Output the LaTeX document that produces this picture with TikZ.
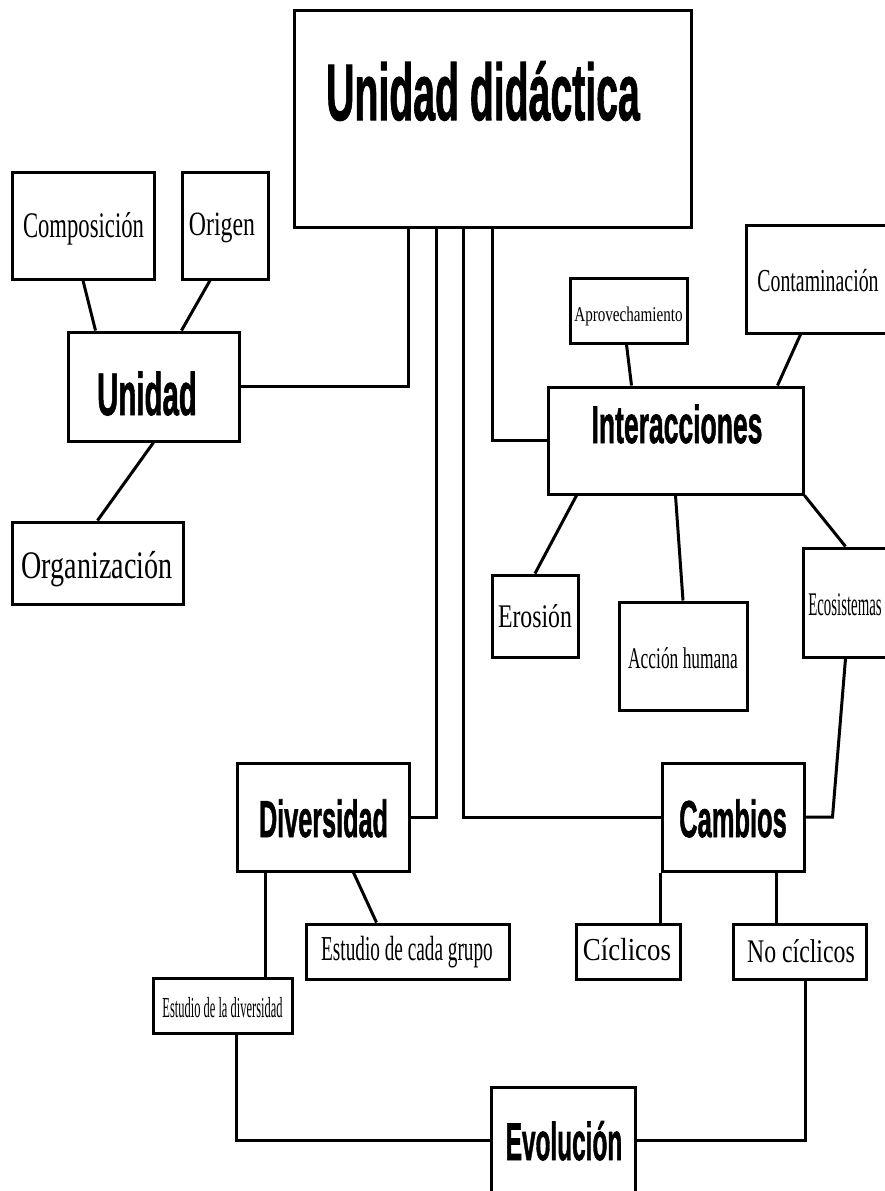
\documentclass[tikz,border=0pt]{standalone}
\usepackage{fontspec}
\setmainfont{Liberation Serif}
\newfontfamily\hdfont{Liberation Sans}
\usepackage{graphicx}
\usetikzlibrary{calc}
% #1 = twice the horizontal shift, #2 = baseline raise, #3 = size, #4 = x scale, #5 = text
\newcommand\tx[5]{\raisebox{#2pt}[0pt][0pt]{\makebox[0pt][c]{\hspace*{#1pt}\fontsize{#3}{#3}\selectfont\scalebox{#4}[1]{#5}}}}
\newcommand\hd[5]{\raisebox{#2pt}[0pt][0pt]{\makebox[0pt][c]{\hspace*{#1pt}\fontsize{#3}{#3}\selectfont\hdfont\bfseries\addfontfeature{FakeBold=1.5}\scalebox{#4}[1]{#5}}}}
\tikzset{
  bx/.style 2 args={draw=black, line width=3pt, inner sep=0pt, minimum width=#1, minimum height=#2, fill=white},
  conn/.style={draw=black, line width=3pt}
}
\begin{document}
\begin{tikzpicture}[x=1pt,y=-1pt]
\fill[white] (0,0) rectangle (884,1191);
\useasboundingbox (0,0) rectangle (884,1191);
% trunk positions
\coordinate (t1) at (408,0);
\coordinate (t2) at (436,0);
\coordinate (t3) at (463,0);
\coordinate (t4) at (492,0);
% nodes
\node[bx={397pt}{217pt}] (main) at (492.5,118.5) {\hd{-19}{-1.5}{80}{0.49}{Unidad didáctica}};
\node[bx={171pt}{109pt}] (unidad) at (153.5,386.5) {\hd{-13}{-28.5}{60}{0.49}{Unidad}};
\node[bx={255pt}{107pt}] (inter) at (675.5,440.5) {\hd{3}{-2.5}{53}{0.50}{Interacciones}};
\node[bx={172pt}{108pt}] (divers) at (323,817) {\hd{1}{-20}{52}{0.485}{Diversidad}};
\node[bx={142pt}{108pt}] (cambios) at (733,817) {\hd{0}{-20}{52}{0.49}{Cambios}};
\node[bx={144pt}{106pt}] (evol) at (563,1140) {\hd{2}{-20}{53}{0.46}{Evolución}};
\node[bx={142pt}{107pt}] (comp) at (83,225.5) {\tx{1}{-11.5}{36}{0.63}{Composición}};
\node[bx={86pt}{107pt}] (orig) at (225,225.5) {\tx{-6}{-9.5}{34}{0.70}{Origen}};
\node[bx={171pt}{82pt}] (org) at (97.5,563) {\tx{-1}{-15}{39}{0.72}{Organización}};
\node[bx={117pt}{65pt}] (aprov) at (628.5,310.5) {\tx{0}{-10.5}{21}{0.72}{Aprovechamiento}};
\node[bx={144pt}{108pt}] (cont) at (818,279) {\tx{0}{-12}{32}{0.62}{Contaminación}};
\node[bx={86pt}{82pt}] (eros) at (535,616) {\tx{0}{-11}{33}{0.72}{Erosión}};
\node[bx={128pt}{108pt}] (acc) at (683,656) {\tx{0}{-12}{30}{0.58}{Acción humana}};
\node[bx={85pt}{109pt}] (eco) at (845.5,602.5) {\tx{-1}{-12.5}{33}{0.45}{Ecosistemas}};
\node[bx={203pt}{55pt}] (grupo) at (407.5,951.5) {\tx{-1}{-8.5}{35}{0.55}{Estudio de cada grupo}};
\node[bx={139pt}{55pt}] (est1) at (222.5,1005.5) {\tx{0}{-11.5}{29}{0.43}{Estudio de la diversidad}};
\node[bx={104pt}{55pt}] (cicl) at (628,951.5) {\tx{-2}{-8.5}{32}{0.84}{Cíclicos}};
\node[bx={133pt}{55pt}] (nocicl) at (799.5,951.5) {\tx{3}{-10.5}{33}{0.72}{No cíclicos}};
% connectors
\draw[conn] (main.south -| t1) |- (unidad.east);
\draw[conn] (main.south -| t2) |- (divers.east);
\draw[conn] (main.south -| t3) |- (cambios.west);
\draw[conn] (main.south -| t4) |- (inter.west);
\draw[conn] (comp.south) -- ([xshift=29pt]unidad.north west);
\draw[conn] ([xshift=-15pt]orig.south) -- ([xshift=115pt]unidad.north west);
\draw[conn] (unidad.south) -- (org.north);
\draw[conn] ([xshift=-2pt]aprov.south) -- ([xshift=85pt]inter.north west);
\draw[conn] ([xshift=56pt]cont.south west) -- ([xshift=-27pt]inter.north east);
\draw[conn] ([xshift=30pt]inter.south west) -- (eros.north);
\draw[conn] (inter.south) -- (acc.north);
\draw[conn] (inter.south east) -- (eco.north);
\draw[conn] (eco.south) -- ([xshift=27pt]cambios.east) -- (cambios.east);
\draw[conn] ([xshift=30pt]divers.south west) -- ([xshift=30pt]divers.south west |- est1.north);
\draw[conn] ([xshift=-57pt]divers.south east) -- ([xshift=72pt]grupo.north west);
\draw[conn] ([xshift=85pt]est1.south west) |- (evol.west);
\draw[conn] (cambios.south west) -- (cambios.south west |- cicl.north);
\draw[conn] ([xshift=-29pt]cambios.south east) -- ([xshift=-29pt]cambios.south east |- nocicl.north);
\draw[conn] ([xshift=-62pt]nocicl.south east) |- (evol.east);
\end{tikzpicture}
\end{document}
